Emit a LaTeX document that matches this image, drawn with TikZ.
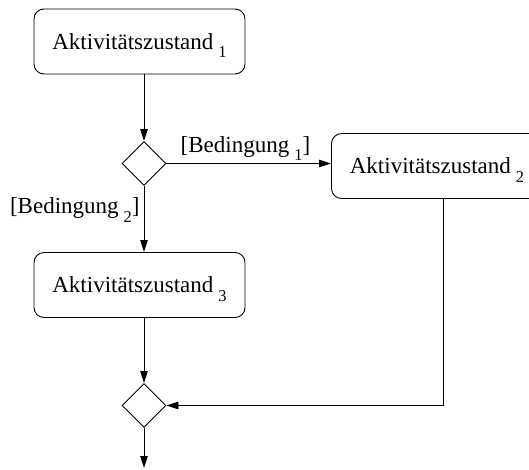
\documentclass[tikz,border=0pt]{standalone}
\usepackage{fontspec}
\setmainfont{Liberation Serif}
\usetikzlibrary{shapes.geometric,arrows.meta}
\newcommand{\lowsub}[1]{\hspace{5pt}\raisebox{-8.5pt}[0pt][0pt]{\fontsize{16.5}{16.5}\selectfont #1}}
\begin{document}
\begin{tikzpicture}[x=1pt,y=-1pt,
  every node/.style={font=\fontsize{23}{27}\selectfont},
  state/.style={draw,rounded corners=10pt,line width=0.9pt,minimum width=211pt,minimum height=65pt,inner sep=0pt},
  decision/.style={draw,diamond,aspect=1,minimum size=44pt,inner sep=0pt,line width=0.9pt},
  flow/.style={line width=0.9pt,-{Triangle[length=12pt,width=7.5pt]}},
  guard/.style={inner sep=0pt}]
\useasboundingbox (0,0) rectangle (529,469);
\node[state] (a1) at (139.5,41.5) {Aktivitätszustand\lowsub{1}};
\node[decision] (d1) at (144,163.5) {};
\node[state] (a2) at (437,166) {Aktivitätszustand\lowsub{2}};
\node[state] (a3) at (139.5,285) {Aktivitätszustand\lowsub{3}};
\node[decision] (d2) at (144,405.5) {};
\coordinate (end) at (144,468);
\coordinate (bend) at (443,405.5);
\draw[flow] (a1.south -| d1.north) -- (d1.north);
\draw[flow] (d1.east) -- (d1.east -| a2.west) node[guard,pos=0.48,above=6pt] {[Bedingung\lowsub{1}]};
\draw[flow] (d1.south) -- (a3.north -| d1.south) node[guard,pos=0.34,left=4pt] {[Bedingung\lowsub{2}]};
\draw[flow] (a3.south -| d2.north) -- (d2.north);
\draw[flow] (a2.south -| bend) -- (bend) -- (d2.east);
\draw[flow] (d2.south) -- (end);
\end{tikzpicture}
\end{document}
